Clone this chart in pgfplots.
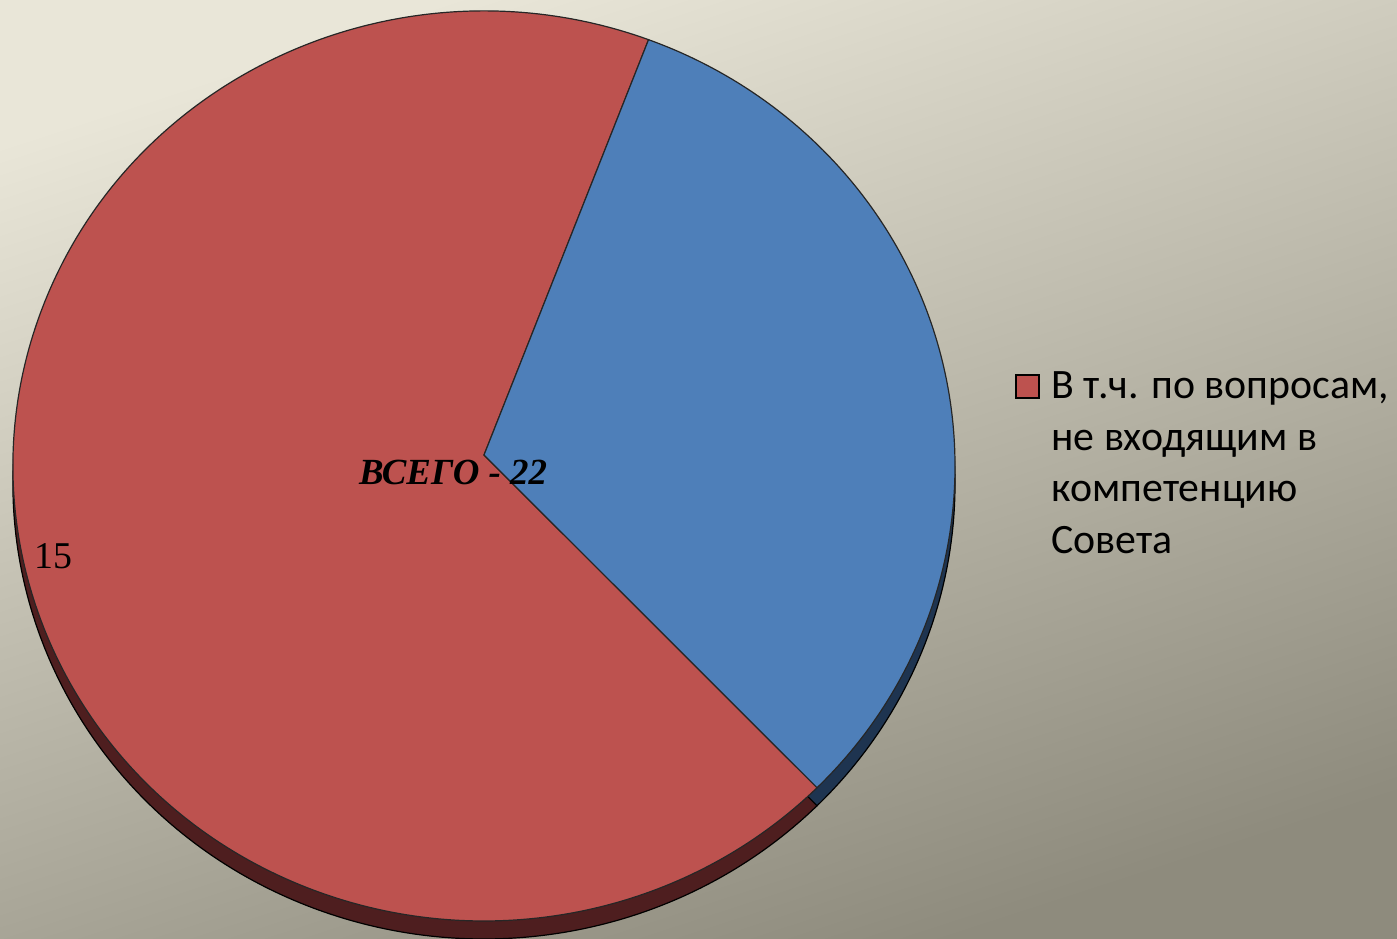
\documentclass[border=0pt]{standalone}
\usepackage{fontspec}
\setmainfont{Liberation Serif}
\newfontfamily\legfont{Carlito}
\usepackage{pgfplots}
\pgfplotsset{compat=1.18}
\usepackage{pgfplotstable}

\definecolor{pieRed}{HTML}{BD524F}
\definecolor{pieBlue}{HTML}{4E7FB9}
\definecolor{sideRed}{HTML}{4E1E1F}
\definecolor{sideBlue}{HTML}{1E3450}
\definecolor{bgLight}{HTML}{E9E6D8}
\definecolor{bgDark}{HTML}{8E8B7D}

% slice values
\pgfplotstableread{
label value
other 15
council 7
}\piedata

\pgfplotstablegetelem{0}{value}\of\piedata \let\vA\pgfplotsretval
\pgfplotstablegetelem{1}{value}\of\piedata \let\vB\pgfplotsretval
\pgfmathsetmacro\total{\vA+\vB}
% boundary between the slices sits at 69.55 deg, red runs counterclockwise
\pgfmathsetmacro\aStart{69.55}
\pgfmathsetmacro\aMid{\aStart+360*\vA/\total}
\pgfmathsetmacro\aEnd{\aMid+360*\vB/\total}

% geometry in pixel units of the axis (1 unit = 0.5bp)
\def\cx{484}\def\cy{473}\def\ay{484}
\def\rx{471}\def\ry{455}\def\depth{18}

\newcommand\slice[5]{% colour, start, end, y shift, draw colour
  \fill[#1, draw=#5, line width=0.6bp]
    (axis cs:\cx,{\ay-#4}) --
    (axis cs:{\cx+\rx*cos(#2)},{\cy-#4+\ry*sin(#2)})
    arc[start angle=#2, end angle=#3, x radius=235.5bp, y radius=227.5bp] -- cycle;
}

\begin{document}
\begin{tikzpicture}
\begin{axis}[
  width=698.5bp, height=469.5bp, scale only axis,
  xmin=0, xmax=1397, ymin=0, ymax=939,
  hide axis, clip=false,
  /pgf/number format/assume math mode=true,
  legend style={draw=none, fill=none, at={(axis cs:1015,572)}, anchor=north west,
    inner sep=0pt, font=\legfont\fontsize{21}{26}\selectfont,
    cells={align=left, anchor=base west},
    /tikz/every odd column/.append style={column sep=3.5bp}},
  % the text cell sits on its last line: lift the square to the first line
  legend image code/.code={\draw[#1, line width=1bp] (0bp,78bp) rectangle (11.5bp,89.5bp);},
]
\shade[overlay, shading=axis, top color=bgLight, bottom color=bgDark, shading angle=18]
  (axis cs:0,0) rectangle (axis cs:1397,939);

% side of the pie
\slice{sideRed}{\aStart}{\aMid}{\depth}{black}
\slice{sideBlue}{\aMid}{\aEnd}{\depth}{black}
% top face
\slice{pieRed}{\aStart}{\aMid}{0}{black!85}
\slice{pieBlue}{\aMid}{\aEnd}{0}{black!85}

\addlegendimage{fill=pieRed, draw=black}
\addlegendentry{В т.ч. по вопросам,\\не входящим в\\компетенцию\\Совета}

\node[font=\fontsize{19}{22}\selectfont] at (axis cs:53,383) {\pgfmathprintnumber{\vA}};
\node[font=\bfseries\itshape\fontsize{18.5}{22}\selectfont] at (axis cs:453,467)
  {ВСЕГО - \pgfmathprintnumber{\total}};
\end{axis}
\pgfresetboundingbox
\path[use as bounding box] (current axis.south west) rectangle (current axis.north east);
\end{tikzpicture}
\end{document}
